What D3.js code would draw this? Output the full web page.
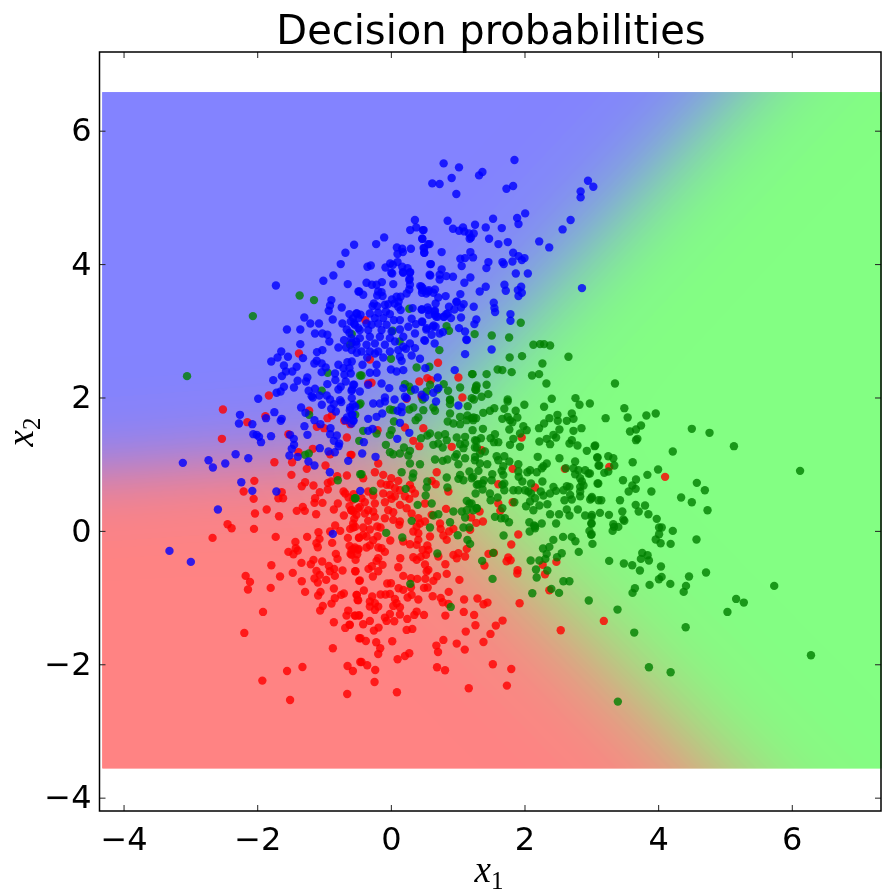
<!DOCTYPE html>
<html><head><meta charset="utf-8">
<script src="https://cdn.jsdelivr.net/npm/d3@7"></script>
<style>
html,body{margin:0;padding:0;background:#fff;overflow:hidden}
#wrap{position:relative;width:883px;height:890px}
canvas,svg{position:absolute;left:0;top:0}
text{font-family:"DejaVu Sans";fill:#000}
</style></head><body><div id="wrap"><canvas id="bg" width="883" height="890"></canvas><svg id="chart" width="883" height="890"></svg></div>
<script>
const xTicks=[-4,-2,0,2,4,6];
const yTicks=[-4,-2,0,2,4,6];
const xDomain=[-4.36,7.335];
const yDomain=[-4.2,7.18];
const gridX=[-4.32,7.335];
const gridY=[-3.55,6.58];
const blueWeights=[-0.244,3.3,-4.10];
const greenWeights=[1.60,1.57,-2.12];
const redWeights=[0,0,0];
const redPoints=[[-1.375,2.66],[-1.825,2.03],[-0.384,3.16],[0.706,2.52],[-0.314,2.57],[1.011,2.30],[-0.289,2.22],[-0.339,2.21],[0.426,2.24],[0.546,2.29],[0.601,2.26],[1.071,2.0],
[-2.513,1.82],[-2.148,1.63],[-1.878,1.72],[-2.528,1.38],[-1.223,1.80],[-0.948,1.69],[-0.883,1.73],[-1.108,1.56],[-0.998,1.54],[-0.698,1.65],[-0.608,1.60],[-1.533,1.45],[-0.658,1.40],[-1.383,1.18],[-1.168,1.23],[-0.908,1.15],[-0.603,1.14],[-1.743,1.03],[-1.478,1.03],[-0.978,0.98],[-1.258,0.93],[-1.488,0.84],[-0.803,0.82],[-0.658,0.83],[-2.043,0.75],[-1.283,0.73],[-1.333,0.67],[-1.158,0.68],[-0.943,0.72],[-0.893,0.74],[-0.943,0.62],[-1.063,0.58],[-2.203,0.59],[-1.633,0.58],[-0.708,0.59],[-0.683,0.56],[-0.633,0.50],[-0.558,0.55],[-1.683,0.49],[-1.613,0.49],[-2.053,0.48],[-1.133,0.49],[-1.143,0.42],[-1.023,0.42],[-0.793,0.41],[-1.318,0.36],[-1.288,0.30],[-1.408,0.30],[-1.858,0.32],[-0.853,0.32],[-0.618,0.37],[-0.593,0.31],[-0.558,0.29],[-0.488,0.34],[-2.033,0.26],[-1.673,0.22],[-1.118,0.25],[-0.703,0.23],[-0.548,0.18],[-2.443,0.10],[-2.383,0.04],[-2.048,0.03],[-0.833,0.08],[-0.758,0.0],[-0.608,0.03],[-0.533,0.06],[-1.083,-0.02],[-0.908,-0.01],
[-2.668,-0.105],[-1.723,-0.09],[-1.253,-0.09],[-1.068,-0.12],[-1.428,-0.165],[-1.113,-0.185],[-0.878,-0.18],[-0.643,-0.105],[-0.478,-0.105],[-1.093,-0.245],[-0.618,-0.225],[-1.423,-0.26],[-1.393,-0.295],[-1.533,-0.315],[-1.458,-0.35],[-0.823,-0.345],[-0.558,-0.27],[-0.483,-0.27],[-0.603,-0.345],[-0.798,-0.42],[-0.528,-0.435],[-1.158,-0.435],[-1.028,-0.46],[-1.338,-0.48],[-1.198,-0.50],[-1.788,-0.515],[-0.928,-0.525],[-0.848,-0.57],[-0.913,-0.605],[-1.113,-0.60],[-0.723,-0.595],[-0.528,-0.605],[-1.468,-0.63],[-2.173,-0.675],[-1.063,-0.66],[-1.658,-0.685],[-0.838,-0.675],[-1.143,-0.715],[-0.968,-0.735],[-2.108,-0.765],[-1.333,-0.755],[-1.093,-0.775],[-0.473,-0.75],[-1.798,-0.855],[-2.138,-0.88],[-0.853,-0.865],[-1.283,-0.915],[-1.053,-0.915],[-1.088,-0.97],[-0.703,-0.94],[-0.743,-0.96],[-0.508,-0.96],[-0.838,-1.01],[-0.498,-1.035],[-0.888,-1.09],[-1.018,-1.125],[-1.058,-1.195],[-0.638,-1.195],[-0.663,-1.27],[-0.533,-1.27],[-0.483,-1.27],[-1.913,-1.215],[-0.853,-1.37],[-0.618,-1.405],[-0.683,-1.455],[-2.193,-1.53],[-0.473,-1.61],[-0.868,-1.76],[-0.648,-2.025],[-1.323,-2.04],[-1.553,-2.10],[-0.568,-2.10],[-0.458,-1.965],[-1.923,-2.245],[-0.653,-2.445],[-1.508,-2.535],
[-0.564,0.05],[-0.414,0.05],[-0.314,0.02],[-0.204,0.065],[-0.154,0.05],[0.126,0.09],[-0.414,-0.06],[-0.474,-0.10],[-0.364,-0.085],[-0.199,-0.08],[-0.264,-0.14],[-0.009,-0.145],[0.186,-0.16],[0.336,-0.01],[0.386,0.065],[0.411,-0.035],[0.286,-0.20],[0.411,-0.135],[0.386,-0.21],[0.586,-0.085],[0.546,-0.22],[0.746,0.03],[0.871,-0.01],[0.936,0.03],[0.786,-0.07],[0.836,-0.135],[1.186,0.015],[-0.539,-0.25],[-0.364,-0.25],[-0.314,-0.22],[-0.589,-0.285],[-0.489,-0.285],[-0.189,-0.25],[-0.139,-0.26],[-0.089,-0.315],[-0.504,-0.35],[-0.589,-0.36],[0.476,-0.285],[0.561,-0.285],[0.526,-0.36],[0.336,-0.395],[0.446,-0.39],[0.386,-0.435],[0.711,-0.385],[1.011,-0.335],[0.936,-0.36],[1.111,-0.385],[0.986,-0.41],[1.136,-0.27],[1.461,-0.345],[1.401,-0.52],[0.141,-0.41],[-0.189,-0.41],[-0.214,-0.45],[-0.124,-0.51],[-0.284,-0.53],[-0.334,-0.57],[-0.189,-0.605],[-0.269,-0.685],[-0.534,-0.605],[0.111,-0.545],[0.511,-0.505],[0.816,-0.50],[0.561,-0.585],[0.536,-0.61],[0.186,-0.675],[0.836,-0.645],[0.691,-0.68],[0.516,-0.72],[0.396,-0.72],[0.301,-0.71],[0.636,-0.75],[1.026,-0.735],[-0.464,-0.745],[-0.054,-0.79],[0.001,-0.785],[0.116,-0.86],[0.186,-0.885],[0.496,-0.855],[0.551,-0.85],[0.301,-0.845],[-0.404,-0.895],[0.866,-0.915],[-0.154,-0.955],[-0.079,-0.955],[-0.014,-0.945],[0.311,-0.96],[0.251,-1.0],[0.411,-1.03],[0.626,-0.98],[0.746,-1.005],[-0.514,-0.96],[-0.489,-1.04],[-0.279,-0.985],[0.061,-1.02],[1.096,-1.03],[1.296,-1.015],[1.386,-1.10],[1.446,-1.075],[0.776,-1.07],[0.861,-1.095],[-0.314,-1.06],[-0.239,-1.085],[-0.314,-1.135],[-0.189,-1.135],[-0.239,-1.185],[0.036,-1.125],[0.086,-1.085],[0.136,-1.145],[-0.014,-1.245],[0.136,-1.255],[0.386,-1.21],[0.351,-1.26],[0.496,-1.26],[1.091,-1.215],[1.246,-1.26],[0.816,-1.27],[-0.539,-1.27],[-0.474,-1.265],[-0.089,-1.30],[0.246,-1.32],[-0.064,-1.35],[0.051,-1.355],[-0.314,-1.35],[-0.414,-1.40],[-0.614,-1.41],[1.266,-1.415],[1.571,-1.42],[-0.184,-1.45],[-0.254,-1.495],[0.236,-1.485],[0.321,-1.47],[1.121,-1.51],[1.491,-1.545],[-0.454,-1.61],[-0.374,-1.65],[-0.219,-1.67],[0.021,-1.655],[0.786,-1.635],[0.986,-1.69],[1.386,-1.665],[0.681,-1.72],[1.106,-1.78],[-0.159,-1.76],[-0.189,-1.845],[0.706,-1.815],[0.276,-1.835],[0.211,-1.875],[0.101,-1.925],[-0.439,-1.965],[-0.354,-2.015],[-0.234,-2.085],[1.526,-2.0],[0.691,-2.045],[0.811,-2.09],[-0.244,-2.265],[1.166,-2.36],[0.091,-2.42],
[0.236,1.98],[0.461,2.01],[0.211,1.55],[0.486,1.54],[-0.199,1.51],[0.336,1.35],[0.426,1.27],[0.911,1.26],[-0.589,1.14],[-0.189,1.01],[0.686,0.88],[-0.239,0.88],[-0.114,0.84],[0.006,0.79],[0.111,0.75],[-0.014,0.69],[-0.064,0.69],[-0.149,0.71],[0.061,0.64],[0.136,0.61],[0.286,0.69],[0.311,0.63],[-0.414,0.79],[0.671,0.70],[0.861,0.59],[0.611,0.75],[-0.339,0.59],[-0.264,0.53],[-0.114,0.56],[-0.014,0.54],[0.061,0.52],[0.211,0.52],[0.361,0.56],[0.011,0.48],[0.276,0.48],[0.511,0.41],[-0.439,0.49],[-0.389,0.43],[-0.239,0.41],[-0.089,0.43],[0.136,0.39],[-0.564,0.47],[-0.589,0.31],[-0.464,0.36],[-0.339,0.31],[-0.264,0.29],[-0.039,0.31],[0.036,0.28],[0.236,0.34],[0.411,0.19],[0.311,0.26],[0.826,0.33],[-0.389,0.26],[-0.514,0.24],[-0.239,0.21],[0.036,0.165],[-0.089,0.19],[0.136,0.14],[0.611,0.24],[0.511,0.14],[0.736,0.11],[0.436,0.11],[-0.339,0.15],[-0.564,0.11],
[1.958,1.40],[1.358,1.21],[1.823,0.93],[2.603,0.93],[1.608,0.70],[2.158,0.65],[1.608,0.41],[1.823,0.43],[1.328,0.29],[1.638,0.30],[1.203,0.20],[1.278,0.12],[1.378,0.14],[3.269,0.96],[4.104,0.81],[1.907,-0.055],[1.802,-0.205],[1.542,-0.33],[1.757,-0.40],[1.732,-0.455],[1.792,-0.44],[2.272,-0.51],[2.477,-0.465],[1.897,-0.59],[1.892,-0.64],[2.307,-0.65],[2.372,-0.89],[1.927,-1.085],[1.672,-1.345],[2.542,-1.49],[3.187,-1.35],[1.802,-2.07],[1.737,-2.32]];
const greenPoints=[[-3.05,2.32],[0.834,3.07],[0.87,3.0],[1.944,3.12],[1.254,2.95],[1.51,2.93],[1.77,2.90],[-1.365,3.53],[-1.15,3.46],[-2.065,3.22],[-0.585,2.95],[-0.61,2.79],[-0.945,2.37],[-0.46,2.33],[-1.035,2.10],[0.276,3.33],[0.726,2.71],[0.001,2.58],[0.131,2.84],[0.026,3.0],[0.386,2.45],[0.576,2.46],[-0.439,2.33],[1.216,2.35],[1.036,2.15],[1.276,2.16],[1.276,2.11],[0.791,2.20],[0.856,2.10],[0.211,2.20],[0.276,2.16],[0.301,2.10],[0.536,2.09],[0.696,2.12],[0.586,2.19],[0.886,1.97],[1.211,1.99],[0.476,1.97],
[-1.223,1.74],[-0.533,1.74],[-0.473,1.35],[-1.283,1.14],[-1.228,1.16],[-0.793,0.76],[-0.458,0.85],[-0.528,0.49],[-0.473,1.89],
[-0.454,1.91],[-0.014,1.82],[0.036,1.81],[0.336,1.85],[0.276,1.82],[0.486,1.81],[0.636,1.85],[0.661,1.80],[0.886,1.96],[0.886,1.90],[1.151,1.87],[1.146,1.73],[1.211,1.69],[1.276,1.69],[1.136,1.66],[0.886,1.76],[1.036,1.71],[0.851,1.64],[0.936,1.61],[1.036,1.60],[0.411,1.70],[0.371,1.66],[0.046,1.64],[0.011,1.51],[-0.414,1.50],[-0.214,1.46],[-0.014,1.44],[0.586,1.46],[0.546,1.43],[0.451,1.39],[0.811,1.45],[0.711,1.43],[0.836,1.36],[0.986,1.40],[1.111,1.41],[1.036,1.30],[1.111,1.31],[1.261,1.36],[-0.074,1.29],[0.196,1.25],[0.636,1.29],[0.776,1.25],[0.711,1.31],[1.286,1.25],[1.086,1.24],[-0.014,1.18],[0.036,1.15],[0.136,1.16],[0.286,1.20],[0.261,1.13],[0.986,1.15],[0.961,1.11],[1.111,1.09],[1.261,1.11],[0.661,1.07],[0.846,1.07],[0.286,1.01],[0.436,1.0],[1.011,1.0],[0.776,1.05],[-0.439,0.85],[0.161,0.88],[0.336,0.86],[0.326,0.80],[1.036,0.84],[1.176,0.89],[1.311,0.90],[1.011,0.78],[1.086,0.76],[1.211,0.79],[0.836,0.80],[0.546,0.74],[0.536,0.65],[0.221,0.63],[1.286,0.69],[-0.264,0.60],[0.846,0.65],[0.521,0.53],[-0.539,0.49],[0.611,0.41],[0.401,0.39],[1.136,0.45],[1.176,0.41],[1.061,0.29],[1.136,0.31],[1.286,0.34],[0.936,0.29],[0.711,0.25],[0.636,0.23],[0.311,0.15],[0.886,0.13],[1.111,0.20],
[2.133,2.79],[2.233,2.80],[2.293,2.80],[2.383,2.78],[1.778,2.60],[1.963,2.62],[2.658,2.61],[2.268,2.51],[1.598,2.42],[1.668,2.41],[1.808,2.38],[1.223,2.35],[1.433,2.35],[2.113,2.33],[2.218,2.35],[2.328,2.21],[1.433,2.19],[1.283,2.18],[1.263,2.12],[1.458,2.05],[1.358,2.01],[1.243,1.97],[1.748,1.97],[1.748,1.94],[2.763,1.99],[2.408,1.98],[1.998,1.89],[2.823,1.89],[2.978,1.91],[2.293,1.86],[1.548,1.84],[1.483,1.80],[1.383,1.77],[1.698,1.83],[1.868,1.80],[2.708,1.76],[2.493,1.74],[1.238,1.70],[1.233,1.66],[1.748,1.71],[1.893,1.70],[1.668,1.68],[1.783,1.66],[1.818,1.63],[2.373,1.69],[2.498,1.65],[2.733,1.68],[2.293,1.61],[2.633,1.65],[1.983,1.57],[2.218,1.54],[2.853,1.54],[1.378,1.53],[1.773,1.52],[2.033,1.51],[1.223,1.51],[2.523,1.52],[2.733,1.50],[1.933,1.46],[1.558,1.45],[2.433,1.44],[1.348,1.39],[1.493,1.39],[1.833,1.38],[2.473,1.40],[2.333,1.38],[2.708,1.36],[1.283,1.35],[1.543,1.33],[1.608,1.33],[2.223,1.34],[2.673,1.31],[2.383,1.30],[2.793,1.28],[3.058,1.28],[1.783,1.29],[1.933,1.26],[1.258,1.25],[1.408,1.19],[2.933,1.20],[1.333,1.16],[1.583,1.12],[1.698,1.12],[2.198,1.11],[2.523,1.09],[3.088,1.10],[1.258,1.06],[1.608,1.06],[1.773,1.04],[1.333,1.01],[1.443,1.0],[2.333,1.01],[2.758,1.04],[3.108,0.98],[2.283,0.97],[2.258,0.94],[1.908,1.0],[1.683,0.97],[2.083,0.91],[2.043,0.88],[2.183,0.88],[2.618,0.94],[2.733,0.94],[2.808,0.91],[2.908,0.91],[1.908,0.89],[1.658,0.90],[2.758,0.85],[2.958,0.86],[1.518,0.85],[1.233,0.81],[1.913,0.81],[1.683,0.84],[2.833,0.79],[2.858,0.74],[1.508,0.76],[1.393,0.76],[1.308,0.70],[1.368,0.71],[1.968,0.74],[2.268,0.74],[2.098,0.71],[3.093,0.71],[1.698,0.71],[1.668,0.69],[2.433,0.66],[2.633,0.67],[2.673,0.66],[2.833,0.66],[2.883,0.68],[1.373,0.62],[1.698,0.61],[1.833,0.61],[1.908,0.61],[2.008,0.61],[2.058,0.59],[2.098,0.56],[2.243,0.59],[2.473,0.60],[2.583,0.61],[2.833,0.59],[1.268,0.56],[2.383,0.56],[2.683,0.54],[2.833,0.52],[1.483,0.56],[2.283,0.53],[2.983,0.47],[3.008,0.51],[3.108,0.46],[1.493,0.46],[2.158,0.49],[2.598,0.46],[2.708,0.47],[1.598,0.50],[2.083,0.44],[1.848,0.43],[2.223,0.38],[2.343,0.40],[2.023,0.37],[1.208,0.41],[1.668,0.34],[2.133,0.31],[2.633,0.32],[2.798,0.32],[1.283,0.34],[1.233,0.31],[2.383,0.25],[2.518,0.25],[2.673,0.23],[2.908,0.23],[3.008,0.24],[1.558,0.21],[1.648,0.19],[1.708,0.19],[1.768,0.13],[2.073,0.13],[2.258,0.11],[2.143,0.08],[2.473,0.11],[3.0,0.11],[2.158,0.04],
[3.354,2.21],[3.494,1.84],[3.964,1.76],[3.824,1.73],[3.544,1.70],[3.214,1.69],[3.744,1.58],[3.669,1.52],[3.579,1.49],[4.504,1.53],[4.769,1.47],[3.689,1.38],[3.669,1.36],[3.049,1.27],[5.134,1.27],[4.219,1.19],[3.254,1.12],[3.094,1.10],[3.329,1.09],[3.619,1.03],[3.119,0.98],[3.344,0.98],[6.124,0.90],[3.999,0.92],[3.254,0.89],[3.194,0.87],[3.839,0.84],[2.979,0.86],[3.669,0.77],[3.474,0.76],[3.104,0.71],[4.579,0.72],[3.614,0.68],[3.664,0.63],[3.559,0.59],[3.899,0.59],[4.699,0.61],[4.344,0.50],[4.504,0.43],[3.429,0.46],[3.149,0.46],[3.004,0.49],[3.664,0.39],[3.804,0.38],[4.739,0.31],[3.709,0.29],[3.464,0.29],[3.129,0.27],[3.264,0.24],[3.854,0.25],[3.004,0.21],[3.479,0.17],[3.494,0.15],[3.979,0.18],[3.329,0.10],[3.339,0.06],[3.404,0.06],[3.004,0.11],[4.014,0.05],[4.054,0.05],[3.319,0.0],[4.219,0.0],[3.004,-0.05],[4.014,-0.05],[3.964,-0.13],[4.574,-0.13],
[1.687,-0.07],[2.077,-0.01],[2.157,0.065],[2.972,0],[2.997,-0.06],[4.037,-0.185],[4.187,-0.195],[3.017,-0.195],[2.432,-0.135],[2.577,-0.09],[2.707,-0.09],[2.762,-0.155],[2.372,-0.24],[2.277,-0.265],[2.812,-0.315],[2.332,-0.345],[2.557,-0.335],[2.487,-0.395],[1.532,-0.33],[2.312,-0.42],[2.222,-0.445],[2.092,-0.445],[3.267,-0.45],[3.487,-0.49],[3.612,-0.515],[3.762,-0.33],[3.842,-0.365],[3.742,-0.42],[3.862,-0.445],[4.042,-0.535],[3.727,-0.595],[2.172,-0.58],[2.342,-0.595],[2.182,-0.70],[1.522,-0.72],[4.052,-0.69],[4.012,-0.725],[4.462,-0.685],[4.717,-0.625],[2.582,-0.755],[2.672,-0.755],[2.402,-0.87],[3.872,-0.81],[4.182,-0.795],[4.417,-0.825],[4.382,-0.915],[5.737,-0.825],[3.652,-0.86],[3.617,-0.93],[2.117,-0.935],[2.517,-0.93],[5.167,-1.02],[5.282,-1.075],[5.037,-1.215],[2.962,-1.045],[3.392,-1.18],[4.412,-1.445],[3.642,-1.525],[6.287,-1.865],[3.862,-2.045],[4.187,-2.12],[3.397,-2.56],
[-0.069,-0.03],[0.171,-0.10],[0.586,0.05],[1.001,-0.065],[1.086,0.05],[1.176,0.05],[1.146,-0.135],[1.186,-0.195],[0.696,-0.34],[1.366,-0.45],[0.291,-0.795],[0.896,-1.14]];
const bluePoints=[[0.36,4.66],[0.38,4.55],[0.29,4.51],[0.49,4.51],[-0.10,4.40],[0.47,4.38],[-0.55,4.29],[-0.22,4.30],[0.09,4.25],[0.17,4.23],[0.30,4.23],[0.50,4.24],[0.56,4.30],[0.18,4.18],[0.10,4.15],[0.50,4.17],[-0.68,4.17],[-0.75,4.00],[-0.30,3.98],[-0.35,3.96],[-0.08,3.95],[-0.01,4.01],[0.03,3.99],[0.10,4.03],[0.17,3.96],[0.25,3.94],[0.29,3.88],[0.18,3.88],[0.02,3.86],[-0.86,3.83],[-1.01,3.75],[0.28,3.78],[0.59,4.00],[0.58,3.84],
[0.79,5.51],[1.02,5.45],[1.85,5.56],[1.37,5.38],[1.32,5.33],[0.91,5.29],[0.62,5.21],[0.73,5.20],[1.83,5.17],[1.73,5.13],[0.98,5.05],[2.95,5.25],[3.03,5.16],[2.84,5.09],[2.84,5.00],[2.01,4.76],[0.85,4.65],[1.53,4.68],[1.89,4.69],[1.91,4.60],[2.69,4.66],[2.57,4.52],[1.26,4.59],[1.42,4.55],[1.66,4.54],[0.48,4.51],[0.93,4.53],[1.02,4.50],[1.08,4.55],[1.10,4.49],[1.17,4.46],[1.24,4.46],[1.20,4.40],[1.18,4.38],[1.47,4.38],[0.47,4.38],[0.58,4.30],[0.49,4.24],[0.50,4.17],[0.76,4.18],[1.61,4.30],[1.75,4.33],[2.22,4.34],[2.37,4.25],[1.83,4.17],[1.19,4.18],[1.91,4.12],[2.00,4.09],[1.96,4.06],[1.82,4.04],[1.04,4.08],[1.11,4.09],[1.23,4.10],[1.46,4.03],[1.67,4.03],[1.69,4.00],[1.06,3.97],[1.43,3.94],[0.60,4.00],[0.76,3.92],[0.59,3.83],[0.73,3.84],[0.73,3.77],[0.83,3.82],[0.93,3.81],[1.19,3.80],[1.87,3.86],[2.05,3.86],[1.10,3.72],[1.70,3.69],[1.42,3.66],[1.95,3.66],[1.90,3.61],[1.33,3.59],[1.72,3.60],[1.96,3.57],[1.91,3.52],[2.86,3.64],[0.46,3.66],[0.47,3.61],[0.57,3.61],[0.66,3.62],[0.53,3.56],[0.82,3.52],[1.04,3.55],[0.71,3.50],[0.67,3.41],[0.98,3.43],[1.09,3.40],[0.87,3.36],[0.95,3.32],[1.05,3.35],[1.24,3.36],[1.54,3.42],[1.55,3.34],[1.56,3.28],[0.46,3.32],[0.55,3.35],[0.66,3.30],[0.57,3.24],[0.66,3.24],[0.68,3.21],[0.79,3.21],[0.83,3.25],[0.90,3.19],[1.05,3.20],[1.79,3.25],[1.79,3.15],[1.28,3.17],[1.25,3.10],[0.47,3.13],[0.64,3.08],[0.67,3.06],[0.53,3.02],[1.02,3.04],[1.11,2.99],[0.61,2.94],[0.73,2.96],[0.78,2.98],[0.50,2.86],[1.13,2.87],
[-0.645,3.70],[-1.72,3.68],[-0.485,3.59],[-0.89,3.46],[-0.91,3.38],[-0.735,3.35],[-0.93,3.30],[-0.62,3.25],[-0.51,3.26],[-1.295,3.20],[-0.87,3.17],[-1.205,3.11],[-1.075,3.11],[-0.725,3.11],[-0.60,3.14],[-0.55,3.11],[-0.485,3.19],[-1.555,3.02],[-1.355,3.02],[-0.66,3.02],[-0.485,3.04],[-1.135,2.96],[-1.025,2.96],[-0.95,2.94],[-0.62,2.97],[-0.92,2.84],[-0.70,2.86],[-0.585,2.82],[-0.52,2.84],[-1.355,2.80],[-0.785,2.75],[-0.67,2.75],[-0.585,2.71],[-0.51,2.67],[-1.64,2.69],[-1.025,2.71],[-1.105,2.68],[-1.695,2.60],[-1.54,2.61],[-1.315,2.59],[-1.79,2.54],[-1.11,2.55],[-1.145,2.51],[-1.035,2.51],[-1.60,2.48],[-1.41,2.46],[-0.975,2.45],[-0.785,2.49],[-0.65,2.53],[-0.585,2.54],[-0.71,2.44],[-0.62,2.44],[-1.57,2.39],[-1.475,2.39],[-1.035,2.38],[-0.835,2.36],[-0.695,2.34],[-0.60,2.36],[-1.63,2.32],[-1.76,2.26],[-1.395,2.25],[-1.25,2.30],[-1.27,2.24],[-0.83,2.26],[-0.675,2.24],[-0.95,2.20],[-0.55,2.19],[-1.60,2.16],[-1.45,2.15],[-1.135,2.13],[-0.75,2.16],[-0.785,2.12],[-0.58,2.12],[-1.65,2.09],[-1.71,2.07],[-1.23,2.10],[-1.185,2.02],[-1.07,2.03],[-0.96,2.03],[-0.91,1.97],[-1.985,1.98],[-0.76,1.96],[-0.585,1.99],
[0.006,3.87],[0.186,3.87],[0.286,3.87],[0.276,3.76],[-0.364,3.72],[-0.284,3.69],[-0.214,3.69],[-0.134,3.73],[0.036,3.70],[0.286,3.69],[0.44,3.67],[0.476,3.64],[-0.474,3.59],[-0.414,3.54],[-0.189,3.59],[-0.139,3.58],[-0.204,3.53],[-0.124,3.52],[0.276,3.62],[0.236,3.56],[0.56,3.59],[0.466,3.57],[0.636,3.57],[0.086,3.51],[0.146,3.51],[0.016,3.47],[-0.039,3.40],[0.116,3.44],[0.11,3.36],[0.056,3.41],[-0.254,3.41],[-0.204,3.37],[-0.274,3.37],[-0.089,3.39],[0.986,3.44],[0.326,3.34],[0.466,3.32],[0.561,3.31],[0.65,3.29],[0.70,3.21],[0.796,3.21],[0.85,3.26],[-0.514,3.26],[-0.454,3.24],[-0.314,3.26],[-0.189,3.27],[-0.074,3.29],[-0.014,3.25],[0.146,3.31],[-0.564,3.19],[-0.239,3.19],[-0.114,3.19],[0.046,3.16],[0.136,3.16],[0.311,3.18],[-0.539,3.09],[-0.364,3.11],[-0.289,3.09],[-0.189,3.11],[-0.064,3.09],[0.376,3.10],[0.466,3.14],[0.261,3.06],[0.536,3.04],[0.626,3.06],[-0.464,3.01],[-0.339,3.01],[-0.139,3.01],[0.011,2.99],[0.136,3.02],[-0.589,2.89],[-0.464,2.89],[-0.314,2.91],[-0.164,2.91],[-0.014,2.89],[0.061,2.84],[0.186,2.91],[0.361,2.96],[0.511,2.85],[0.656,2.81],[1.136,2.86],[-0.514,2.79],[-0.364,2.79],[-0.239,2.81],[-0.089,2.79],[0.186,2.76],[0.286,2.81],[0.361,2.74],[-0.439,2.69],[-0.314,2.69],[-0.189,2.69],[-0.014,2.69],[0.111,2.71],[0.226,2.73],[1.111,2.65],[-0.354,2.60],[-0.239,2.66],[-0.114,2.60],[0.136,2.61],[0.311,2.63],[0.436,2.58],[0.161,2.55],[-0.424,2.49],[-0.214,2.49],[0.001,2.42],[0.086,2.39],[0.186,2.41],[0.516,2.44],[-0.314,2.37],[-0.214,2.37],[0.956,2.41],[-0.139,2.21],[-0.339,2.19],[-0.564,2.19],[-0.589,2.10],[-0.024,2.14],[0.186,2.14],[0.701,2.30],[0.711,2.14],[0.361,2.12],[0.636,2.07],[-0.464,2.09],[-0.089,2.0],[0.236,1.99],[0.461,2.04],
[-2.258,1.74],[-2.273,1.61],[-2.073,1.60],[-1.743,1.78],[-1.868,1.69],[-1.633,1.68],[-1.648,1.65],[-1.343,1.85],[-1.278,1.77],[-1.168,2.0],[-1.033,1.89],[-0.743,1.93],[-0.853,1.90],[-0.893,1.83],[-0.823,1.79],[-0.608,1.85],[-0.533,1.86],[-0.583,1.74],[-0.658,1.70],[-0.558,1.65],[-0.683,1.66],[-1.143,1.66],[-1.053,1.60],[-1.293,1.57],[-0.903,1.54],[-1.248,1.44],[-1.793,1.42],[-2.058,1.45],[-2.008,1.44],[-1.973,1.41],[-1.943,1.33],[-1.508,1.44],[-1.453,1.38],[-1.448,1.29],[-1.483,1.23],[-1.518,1.13],[-1.393,1.11],[-0.908,1.45],[-0.808,1.43],[-0.853,1.35],[-0.773,1.31],[-0.783,1.27],[-1.063,1.24],[-0.933,1.19],[-0.838,1.18],[-2.323,1.15],[-2.133,1.09],[-2.728,1.06],[-3.113,1.02],[-2.478,1.01],[-2.663,0.95],[-1.233,1.04],[-1.143,0.98],[-0.638,1.05],[-0.913,0.88],[-2.238,0.73],[-2.073,0.60],[-1.713,0.59],[-2.588,0.32],[-0.458,0.60],[-0.868,-0.045],[-3.313,-0.30],[-2.993,-0.465],
[0.056,1.97],[-0.089,1.94],[0.211,2.01],[0.511,2.0],[0.676,1.94],[1.011,1.88],[-0.264,1.91],[-0.164,1.91],[0.161,1.86],[0.101,1.80],[0.161,1.78],[-0.129,1.76],[-0.214,1.71],[-0.339,1.68],[-0.564,1.89],[-0.614,1.81],[-0.574,1.74],[-0.564,1.66],[-0.589,1.61],[0.136,1.62],[-0.339,1.50],[-0.274,1.53],[0.276,1.47],[0.096,1.38],[-0.404,1.33],[-0.429,1.16],[-0.229,1.11],[1.508,2.72]];

const x=d3.scaleLinear().domain(xDomain).range([99.5,881]);
const y=d3.scaleLinear().domain(yDomain).range([811,52]);
const classColor=[[128,128,255],[128,255,128],[255,128,128]];
const ctx=document.getElementById('bg').getContext('2d');
const step=1;
const x0=x(gridX[0]),x1=x(gridX[1]),y0=y(gridY[1]),y1=y(gridY[0]);
for(let py=y0;py<y1;py+=step){
  for(let px=x0;px<x1;px+=step){
    const dx=x.invert(px),dy=y.invert(py);
    const s=[blueWeights,greenWeights,redWeights].map(w=>Math.exp(w[0]*dx+w[1]*dy+w[2]));
    const t=d3.sum(s);
    const c=[0,1,2].map(k=>d3.sum(s,(v,i)=>v/t*classColor[i][k]));
    ctx.fillStyle=`rgb(${c[0]},${c[1]},${c[2]})`;
    ctx.fillRect(px,py,step+0.5,step+0.5);
  }
}
const svg=d3.select('#chart');
const groups=[[redPoints,'#ff0000'],[greenPoints,'#008000'],[bluePoints,'#0000ff']];
groups.forEach(([pts,col])=>{
  svg.append('g').selectAll('circle').data(pts).join('circle')
    .attr('cx',d=>x(d[0])).attr('cy',d=>y(d[1])).attr('r',4.2)
    .attr('fill',col).attr('fill-opacity',0.8);
});
const fmt=d=>String(d).replace('-','\u2212');
function styleAxis(g){
  g.select('.domain').remove();
  g.selectAll('line').attr('stroke','#222').attr('stroke-width',1);
  g.selectAll('text').style('font-size','32px').style('font-family','"DejaVu Sans"').attr('fill','#000');
}
svg.append('g').attr('transform','translate(0,811)')
  .call(d3.axisBottom(x).tickValues(xTicks).tickFormat(fmt).tickSize(-6).tickPadding(16)).call(styleAxis);
svg.append('g').attr('transform','translate(0,52)')
  .call(d3.axisTop(x).tickValues(xTicks).tickFormat('').tickSize(-6)).call(styleAxis);
svg.append('g').attr('transform','translate(99.5,0)')
  .call(d3.axisLeft(y).tickValues(yTicks).tickFormat(fmt).tickSize(-6).tickPadding(8)).call(styleAxis);
svg.append('g').attr('transform','translate(881,0)')
  .call(d3.axisRight(y).tickValues(yTicks).tickFormat('').tickSize(-6)).call(styleAxis);
svg.append('rect').attr('x',99.5).attr('y',52).attr('width',781.5).attr('height',759)
  .attr('fill','none').attr('stroke','#000').attr('stroke-width',1.5);
svg.append('text').attr('x',491).attr('y',44).attr('text-anchor','middle').style('font-size','40px').text('Decision probabilities');
function mathLabel(t,sub){
  t.style('font-family','"Liberation Serif"').style('font-size','37px');
  t.append('tspan').style('font-style','italic').style('font-family','"Liberation Serif"').text('x');
  t.append('tspan').attr('dy',7).style('font-size','25px').style('font-family','"Liberation Serif"').text(sub);
}
svg.append('text').attr('x',489).attr('y',882).attr('text-anchor','middle').call(mathLabel,'1');
svg.append('text').attr('transform','translate(33,432) rotate(-90)').attr('text-anchor','middle').call(mathLabel,'2');
</script></body></html>
